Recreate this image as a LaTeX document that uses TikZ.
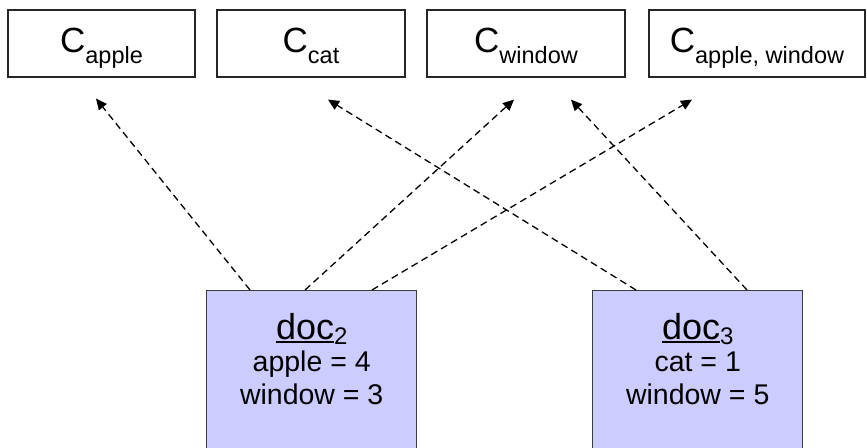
\documentclass[tikz,border=0pt]{standalone}
\usepackage{fontspec}
\setmainfont{Liberation Sans}
\usetikzlibrary{arrows.meta,calc}

% word with a thick rule just under its baseline
\newcommand\docname[1]{\leavevmode\vtop{\hbox{#1}\kern1.4pt\hrule height 2pt}}
% large letter with a lowered, smaller index
\newcommand\cname[1]{C\raisebox{-11pt}{\fontsize{23.5}{23.5}\selectfont #1}}
% lowered document number
\newcommand\docnum[1]{\raisebox{-5pt}{\fontsize{24}{24}\selectfont #1}}

\definecolor{docfill}{HTML}{CCCCFF}
\definecolor{docline}{HTML}{3C3C3C}

\begin{document}
\begin{tikzpicture}[x=1pt,y=-1pt,
  cbox/.style={draw=black!85, line width=1.2pt, fill=white, inner sep=0pt,
    anchor=base, text height=42pt, text depth=25pt,
    font=\fontsize{35}{35}\selectfont},
  docbox/.style={draw=docline, line width=1.4pt, fill=docfill, inner sep=0pt,
    anchor=north west, minimum width=210pt, minimum height=190pt},
  doctitle/.style={anchor=base, inner sep=0pt, font=\fontsize{36}{36}\selectfont},
  docline/.style={anchor=base, inner sep=0pt, font=\fontsize{28.5}{28.5}\selectfont},
  link/.style={draw=black, line width=1.3pt, dash pattern=on 7pt off 4.5pt,
    -{Triangle[length=11pt,width=10pt]}}
]
\useasboundingbox (0,0) rectangle (867,447);

% cluster boxes along the top
\node[cbox, minimum width=187pt] (capple)  at (101.5,52) {\cname{apple}};
\node[cbox, minimum width=188pt] (ccat)    at (311,52)   {\cname{cat}};
\node[cbox, minimum width=198pt] (cwindow) at (526,52)   {\cname{window}};
\node[cbox, minimum width=216pt] (cboth)   at (757,52)   {\cname{apple, window}};

% document boxes (running off the bottom edge)
\node[docbox] (doc2) at (206,290) {};
\node[docbox] (doc3) at (592,290) {};

\node[doctitle] (d2a) at ($(doc2.north)+(0,49)$) {\docname{doc}\docnum{2}};
\node[docline] (d2b) at ($(doc2.north)+(0,81)$) {apple = 4};
\node[docline] (d2c) at ($(doc2.north)+(0,114)$) {window = 3};

\node[doctitle] (d3a) at ($(doc3.north)+(0,49)$) {\docname{doc}\docnum{3}};
\node[docline] (d3b) at ($(doc3.north)+(0,81)$) {cat = 1};
\node[docline] (d3c) at ($(doc3.north)+(0,114)$) {window = 5};

% arrow ends just below the cluster boxes
\coordinate (tapple)   at ($(capple.south)+(-5.5,21)$);
\coordinate (tcat)     at ($(ccat.south)+(17,22)$);
\coordinate (twinl)    at ($(cwindow.south)+(-12,22)$);
\coordinate (twinr)    at ($(cwindow.south)+(45,22)$);
\coordinate (tboth)    at ($(cboth.south)+(-65,22)$);

% assignments of documents to clusters
\draw[link] ($(doc2.north west)+(44,0)$)  -- (tapple);
\draw[link] ($(doc2.north west)+(99,0)$)  -- (twinl);
\draw[link] ($(doc2.north west)+(166,0)$) -- (tboth);
\draw[link] ($(doc3.north west)+(44,0)$)  -- (tcat);
\draw[link] ($(doc3.north west)+(155,0)$) -- (twinr);
\end{tikzpicture}
\end{document}
